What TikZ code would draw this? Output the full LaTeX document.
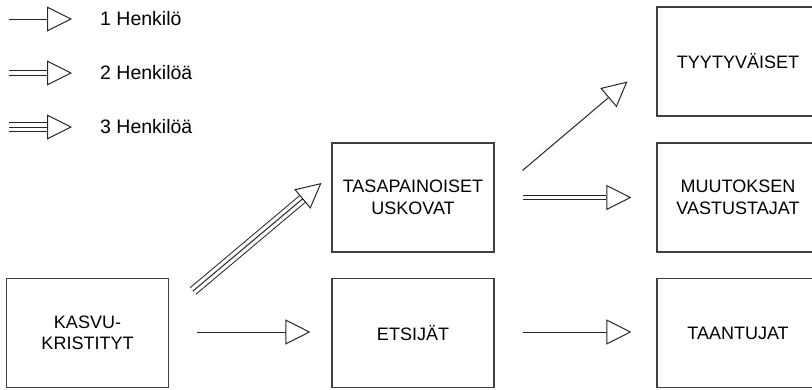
\documentclass[tikz,border=0pt]{standalone}
\usepackage{fontspec}
\setmainfont{Liberation Sans}
\usetikzlibrary{arrows.meta}

\tikzset{
  box/.style={draw=black!75, line width=1.1pt, minimum width=162pt, minimum height=109pt,
    inner sep=0pt, align=center, font=\fontsize{18}{21.5}\selectfont},
  legtext/.style={anchor=west, inner sep=0pt, font=\fontsize{19.5}{22}\selectfont},
  onearrow/.style={draw=black!85, line width=1pt,
    -{Triangle[open, length=25pt, width=25pt, line width=1pt]}},
  twolines/.style={draw=black!85, line width=1pt, double=white, double distance=3.3pt, shorten >=25pt},
  threelines/.style={draw=black!85, line width=1pt, double=white, double distance=7.6pt, shorten >=25pt},
}

\begin{document}
\begin{tikzpicture}[x=1pt, y=-1pt]
    \useasboundingbox (0,0) rectangle (812,389);

    % legend
    \node[legtext] (leg1) at (100,19) {1 Henkilö};
    \node[legtext] (leg2) at (100,73) {2 Henkilöä};
    \node[legtext] (leg3) at (100,127) {3 Henkilöä};

    \draw[onearrow] ([shift={(-91,0)}]leg1.west) -- ([shift={(-28,0)}]leg1.west);
    \draw[onearrow] ([shift={(-91,0)}]leg2.west) -- ([shift={(-28,0)}]leg2.west);
    \draw[twolines] ([shift={(-91,0)}]leg2.west) -- ([shift={(-28,0)}]leg2.west);
    \draw[threelines] ([shift={(-91,0)}]leg3.west) -- ([shift={(-28,0)}]leg3.west);
    \draw[onearrow] ([shift={(-91,0)}]leg3.west) -- ([shift={(-28,0)}]leg3.west);

    % groups
    \node[box] (kasvu) at (87.5,333) {KASVU-\\KRISTITYT};
    \node[box] (tasa) at (413,197.5) {TASAPAINOISET\\USKOVAT};
    \node[box] (etsijat) at (413,333) {ETSIJÄT};
    \node[box] (tyyty) at (738,61.5) {TYYTYVÄISET};
    \node[box] (muutos) at (738,197.5) {MUUTOKSEN\\VASTUSTAJAT};
    \node[box] (taant) at (738,333) {TAANTUJAT};

    % flows
    \draw[threelines] ([shift={(24,13)}]kasvu.north east) -- ([shift={(-10,-14.5)}]tasa.west);
    \draw[onearrow] ([shift={(24,13)}]kasvu.north east) -- ([shift={(-10,-14.5)}]tasa.west);

    \draw[onearrow] ([shift={(28,-1)}]kasvu.east) -- ([shift={(-21,-1)}]etsijat.west);

    \draw[onearrow] ([shift={(28,28)}]tasa.north east) -- ([shift={(-29,-35)}]tyyty.south west);

    \draw[onearrow] (tasa.east) ++(28,0) coordinate (t2) -- ([shift={(-25,0)}]muutos.west);
    \draw[twolines] (t2) -- ([shift={(-25,0)}]muutos.west);

    \draw[onearrow] ([shift={(28,-1)}]etsijat.east) -- ([shift={(-25,-1)}]taant.west);
\end{tikzpicture}
\end{document}
